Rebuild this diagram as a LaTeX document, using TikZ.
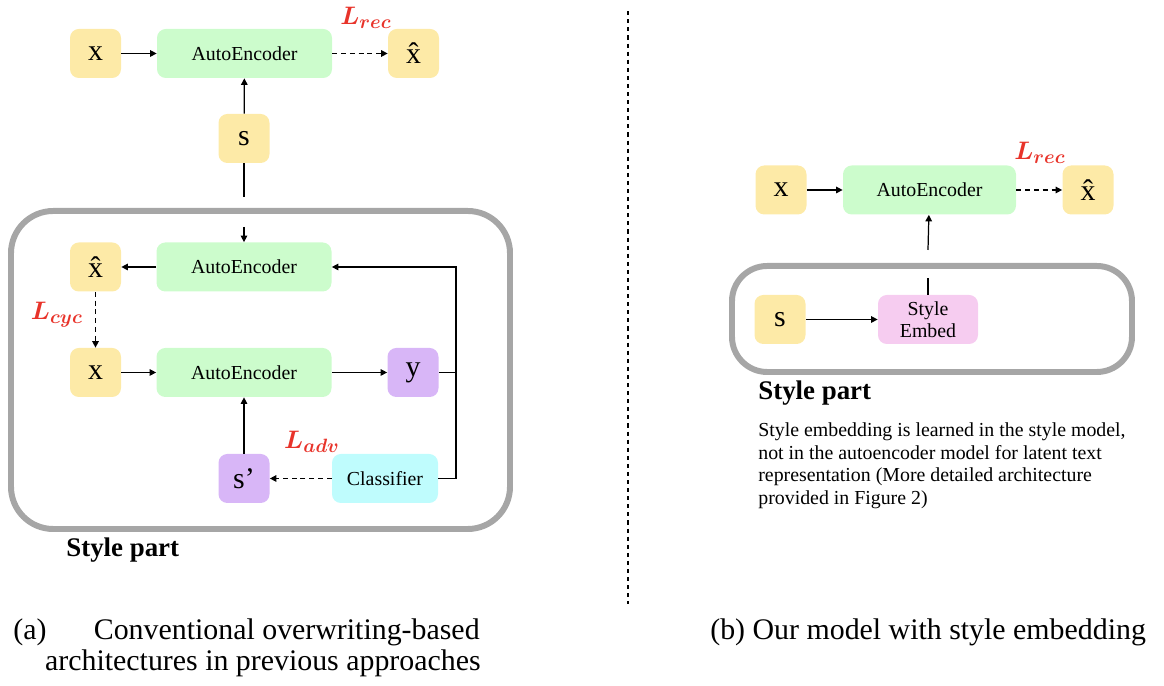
\documentclass[tikz,border=0pt]{standalone}
\usepackage{fontspec}
\setmainfont{Liberation Serif}
\usepackage{bm}
\usetikzlibrary{arrows.meta}
\definecolor{tokyellow}{HTML}{FDEAA7}
\definecolor{aegreen}{HTML}{CCFCCC}
\definecolor{outpurple}{HTML}{D8B6F7}
\definecolor{clscyan}{HTML}{BFFCFD}
\definecolor{embpink}{HTML}{F6CCF0}
\definecolor{partgrey}{HTML}{A6A6A6}
\definecolor{lossred}{HTML}{E8332A}
\begin{document}
\begin{tikzpicture}[
    tok_style/.style={rounded corners=5pt, minimum width=10.2mm, minimum height=9.8mm, inner sep=0pt, font=\fontsize{17}{20}\selectfont},
    ae_style/.style={rounded corners=5pt, fill=aegreen, minimum width=35mm, minimum height=9.8mm, inner sep=0pt, font=\fontsize{11.3}{13}\selectfont},
    link_style/.style={line width=0.7pt, -{Triangle[length=1.3mm,width=1.3mm]}},
    loss_link/.style={link_style, line width=0.8pt, dash pattern=on 2.8pt off 2.2pt},
    loss_style/.style={text=lossred, font=\fontsize{15.5}{18}\selectfont},
    part_style/.style={draw=partgrey, line width=3.4pt}
]
\useasboundingbox (0,0) rectangle (23.28,13.72);
% (a) conventional architecture
\node[tok_style, fill=tokyellow] (xa) at (1.91, 12.65) {x};
\node[ae_style] (ae1) at (4.89, 12.65) {AutoEncoder};
\node[tok_style, fill=tokyellow] (xh1) at (8.27, 12.65) {\^x};
\node[loss_style] (lrec1) at (7.32, 13.36) {$\bm{L_{rec}}$};
\node[tok_style, fill=tokyellow] (s1) at (4.88, 10.95) {s};
\draw[link_style] (xa) -- (ae1);
\draw[loss_link] (ae1) -- (xh1);
\draw[link_style] (s1) -- (ae1);
% style part of (a)
\draw[part_style, rounded corners=24pt] (0.22, 3.14) rectangle (10.2, 9.5);
\node[tok_style, fill=tokyellow] (xh2) at (1.91, 8.38) {\^x};
\node[ae_style] (ae2) at (4.88, 8.38) {AutoEncoder};
\node[tok_style, fill=tokyellow] (xa2) at (1.91, 6.27) {x};
\node[ae_style] (ae3) at (4.88, 6.27) {AutoEncoder};
\node[tok_style, fill=outpurple] (ya) at (8.26, 6.27) {y};
\node[tok_style, fill=outpurple] (sp) at (4.88, 4.15) {s’};
\node[ae_style, fill=clscyan, minimum width=21.2mm] (cls) at (7.70, 4.15) {Classifier};
\node[loss_style, anchor=east] (lcyc) at (1.78, 7.42) {$\bm{L_{cyc}}$};
\node[loss_style] (ladv) at (6.24, 4.88) {$\bm{L_{adv}}$};
\coordinate (s_gap_top) at (4.88, 9.78);
\coordinate (s_gap_bot) at (4.88, 9.18);
\coordinate (fork) at (9.12, 6.27);
\draw[line width=0.7pt] (s1) -- (s_gap_top);
\draw[link_style] (s_gap_bot) -- (ae2);
\draw[link_style] (ae2) -- (xh2);
\draw[loss_link] (xh2) -- (xa2);
\draw[link_style] (xa2) -- (ae3);
\draw[link_style] (ae3) -- (ya);
\draw[line width=0.7pt] (ya) -- (fork);
\draw[link_style] (fork) |- (ae2);
\draw[line width=0.7pt] (fork) |- (cls);
\draw[loss_link] (cls) -- (sp);
\draw[link_style] (sp) -- (ae3);
\node[anchor=west, inner sep=0pt, font=\fontsize{15.3}{18}\selectfont\bfseries] (part_a) at (1.32, 2.72) {Style part};
% divider
\node[inner sep=0pt] (div_top) at (12.56, 13.52) {};
\node[inner sep=0pt] (div_bot) at (12.56, 1.62) {};
\draw[line width=0.85pt, dash pattern=on 2.3pt off 2.3pt] (div_top) -- (div_bot);
% (b) our model
\node[tok_style, fill=tokyellow] (xb) at (15.62, 9.92) {x};
\node[ae_style, minimum width=34.6mm] (ae4) at (18.59, 9.92) {AutoEncoder};
\node[tok_style, fill=tokyellow] (xh3) at (21.76, 9.92) {\^x};
\node[loss_style] (lrec2) at (20.8, 10.66) {$\bm{L_{rec}}$};
\draw[link_style] (xb) -- (ae4);
\draw[loss_link] (ae4) -- (xh3);
% style part of (b)
\draw[part_style, rounded corners=20pt] (14.64, 6.28) rectangle (22.64, 8.40);
\node[tok_style, fill=tokyellow] (s2) at (15.6, 7.33) {s};
\node[ae_style, fill=embpink, minimum width=20mm, align=center, font=\fontsize{11.3}{12.5}\selectfont] (emb) at (18.56, 7.33) {Style\\Embed};
\coordinate (e_gap_bot) at (18.56, 8.16);
\coordinate (e_gap_top) at (18.56, 8.72);
\draw[link_style] (s2) -- (emb);
\draw[line width=0.7pt] (emb) -- (e_gap_bot);
\draw[link_style] (e_gap_top) -- (ae4);
\node[anchor=west, inner sep=0pt, font=\fontsize{15.3}{18}\selectfont\bfseries] (part_b) at (15.16, 5.86) {Style part};
\node[anchor=north west, align=left, inner sep=0pt, font=\fontsize{11.3}{12.8}\selectfont] (desc) at (15.16, 5.27)
    {Style embedding is learned in the style model,\\not in the autoencoder model for latent text\\representation (More detailed architecture\\provided in Figure 2)};
% captions
\node[anchor=west, inner sep=0pt, font=\fontsize{17}{20}\selectfont] (cap_a) at (0.26, 1.08) {(a)};
\node[anchor=east, inner sep=0pt, font=\fontsize{17}{20}\selectfont] (cap_a1) at (9.6, 1.08) {Conventional overwriting-based};
\node[anchor=east, inner sep=0pt, font=\fontsize{17}{20}\selectfont] (cap_a2) at (9.62, 0.46) {architectures in previous approaches};
\node[anchor=west, inner sep=0pt, font=\fontsize{17}{20}\selectfont] (cap_b) at (14.2, 1.08) {(b) Our model with style embedding};
\end{tikzpicture}
\end{document}
